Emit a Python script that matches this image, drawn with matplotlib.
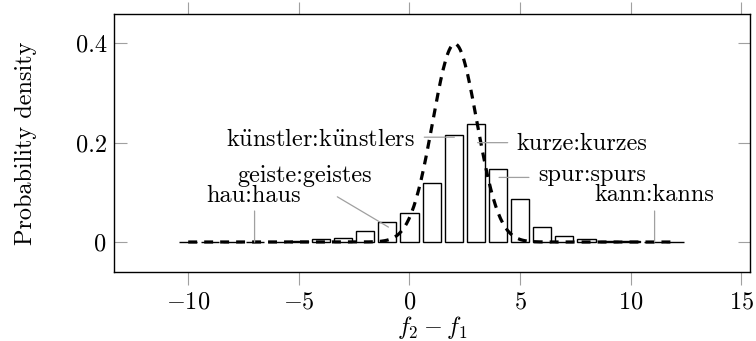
import numpy as np
import matplotlib
matplotlib.use('Agg')
import matplotlib.pyplot as plt

# difference f2 - f1 and the observed density per bin
diffs = list(range(-10, 13))
density = [0, 0, 0, 0.0005, 0.0008, 0.0012, 0.0054, 0.0087, 0.022, 0.040,
           0.059, 0.118, 0.215, 0.238, 0.146, 0.086, 0.030, 0.013, 0.0055,
           0.0025, 0.0015, 0.001, 0.0005]

# normal reference curve
mu = 2.05
sigma = 1.0

# pinned example pairs: label, point, line start, text pos, alignment
pin_labels = ['hau:haus', 'geiste:geistes', 'k$\\ddot{\\mathrm{u}}$nstler:k$\\ddot{\\mathrm{u}}$nstlers',
              'kurze:kurzes', 'spur:spurs', 'kann:kanns']
pin_points = [(-7, 0), (-0.95, 0.03), (2.03, 0.211), (3.08, 0.2), (4.05, 0.13), (11.08, 0)]
pin_starts = [(-7, 0.0624), (-3.26, 0.091), (0.67, 0.211), (4.44, 0.2), (5.40, 0.13), (11.08, 0.0624)]
pin_text = [(-7.03, 0.0815), (-4.72, 0.121), (0.25, 0.193), (4.84, 0.185), (5.82, 0.123), (11.08, 0.0826)]
pin_ha = ['center', 'center', 'right', 'left', 'left', 'center']

plt.rcParams['font.family'] = 'serif'
plt.rcParams['font.serif'] = ['cmr10']
plt.rcParams['mathtext.fontset'] = 'cm'
plt.rcParams['axes.formatter.use_mathtext'] = True
plt.rcParams['font.size'] = 17.5

fig = plt.figure(figsize=(7.56, 3.41), dpi=100)
ax = fig.add_axes([0.1512, 0.2023, 0.8408, 0.7567])

ax.bar(diffs, density, width=0.82, color='white', edgecolor='black', linewidth=1.0, zorder=2)

xs = np.linspace(-10, 12, 400)
ax.plot(xs, np.exp(-(xs - mu) ** 2 / (2 * sigma ** 2)) / (sigma * np.sqrt(2 * np.pi)),
        color='black', linewidth=2.3, linestyle=(0, (2.8, 2.2)), zorder=3)

for lab, pt, st, tp, ha in zip(pin_labels, pin_points, pin_starts, pin_text, pin_ha):
    ax.annotate('', xy=pt, xytext=st,
                arrowprops=dict(arrowstyle='-', color='#a0a0a0', lw=0.9, shrinkA=0, shrinkB=0),
                zorder=4)
    ax.text(tp[0], tp[1], lab, ha=ha, va='baseline', fontsize=17.5, zorder=5)

ax.set_xlim(-13.34, 15.39)
ax.set_ylim(-0.0604, 0.459)
ax.set_xticks([-10, -5, 0, 5, 10, 15])
ax.set_yticks([0, 0.2, 0.4])
ax.set_yticklabels(['0', '0.2', '0.4'])

ax.tick_params(axis='x', direction='out', top=True, length=9, width=0.8,
               color='#a0a0a0', pad=5)
ax.tick_params(axis='y', direction='in', right=True, length=9, width=0.8,
               color='#a0a0a0', pad=5.5)
for s in ax.spines.values():
    s.set_linewidth(1.0)

ax.set_xlabel('$f_2 - f_1$', labelpad=0)
ax.set_ylabel('Probability density', labelpad=28)

fig.savefig('out.png', dpi=100)
